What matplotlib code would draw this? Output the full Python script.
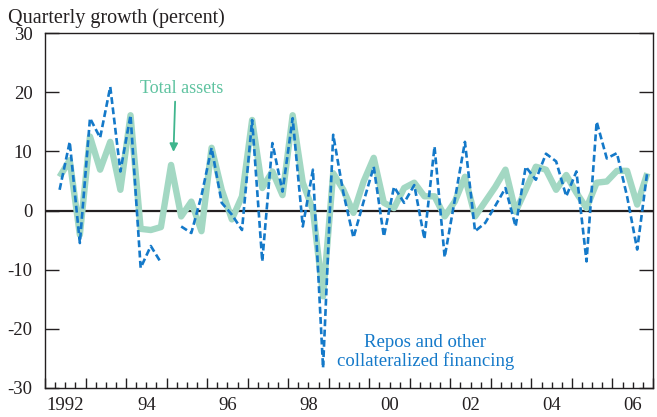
import numpy as np
import matplotlib
matplotlib.use("Agg")
import matplotlib.pyplot as plt
from matplotlib.transforms import blended_transform_factory

# ---- data (quarterly, 1992Q1 .. 2006Q3) ----
start_year = 1992
total_assets = [5.7, 8.5, -4.1, 12.5, 6.9, 11.6, 3.5, 16.1, -3.1, -3.3, -2.8,
                7.7, -1.0, 1.5, -3.5, 10.6, 3.5, -1.5, 2.4, 15.3, 3.8, 6.6, 2.6,
                16.1, 4.7, 0.1, -14.5, 6.3, 3.5, -0.4, 4.9, 8.9, 1.3, 0.4, 3.8,
                4.7, 2.4, 2.4, -1.0, 1.5, 5.7, -1.0, 1.5, 4.0, 6.9, -0.2, 3.5,
                7.4, 6.9, 3.5, 6.0, 3.0, 0.4, 4.7, 4.9, 6.7, 6.7, 1.0, 6.3]
repos = [3.5, 11.6, -5.5, 15.6, 12.3, 20.9, 6.6, 16.1, -9.7, -6.0, -8.8,
         np.nan, -2.7, -3.8, 2.5, 10.6, 1.3, -0.7, -3.3, 15.3, -8.6, 11.4, 3.2,
         15.6, -2.7, 6.9, -26.6, 12.8, 3.0, -4.6, 1.5, 7.4, -4.4, 4.0, 1.3,
         4.3, -4.8, 10.8, -7.9, 1.8, 11.6, -3.5, -2.1, 0.8, 3.8, -2.7, 7.4,
         5.2, 9.6, 8.3, 2.4, 6.6, -8.6, 15.0, 8.8, 9.7, 2.4, -6.6, 6.6]
year_labels = ["1992", "94", "96", "98", "00", "02", "04", "06"]
label_years = [1992, 1994, 1996, 1998, 2000, 2002, 2004, 2006]
y_ticks = [-30, -20, -10, 0, 10, 20, 30]

n = len(total_assets)
t = start_year + 0.36 + 0.25 * np.arange(n)

GREEN = "#a3d8c3"
GREEN_TXT = "#5fc3a0"
ARROW = "#3fb58d"
BLUE = "#1479c9"
INK = "#231f20"

plt.rcParams['font.family'] = ['Liberation Serif', 'DejaVu Serif']

fig = plt.figure(figsize=(6.57, 4.17), dpi=100)
ax = fig.add_axes([45/657, 1 - 388/417, (653 - 45)/657, (388 - 33)/417])

ax.axhline(0, color=INK, lw=1.6, zorder=1)
ax.plot(t, total_assets, color=GREEN, lw=4.6, solid_joinstyle='round',
        solid_capstyle='butt', zorder=2)
ax.plot(t, repos, color=BLUE, lw=1.9, linestyle=(0, (2.6, 1.3)),
        dash_joinstyle='round', zorder=3)

ax.set_xlim(1992, 2007)
ax.set_ylim(-30, 30)

ax.set_yticks(y_ticks)
ax.set_yticklabels([str(v) for v in y_ticks])
ax.tick_params(axis='y', which='both', direction='in', length=10, width=1,
               left=True, right=True, labelsize=13.5, pad=9, colors=INK)

ax.set_xticks(np.arange(1992, 2008))
ax.set_xticks(np.arange(1992, 2007.01, 0.25), minor=True)
ax.set_xticklabels([])
ax.tick_params(axis='x', which='major', direction='in', length=7.5, width=1, colors=INK)
ax.tick_params(axis='x', which='minor', direction='in', length=4.3, width=1, colors=INK)

trans = blended_transform_factory(ax.transData, ax.transAxes)
for yr, lab in zip(label_years, year_labels):
    ax.text(yr + 0.5, -0.025, lab, transform=trans, ha='center', va='top',
            fontsize=13.5, color=INK)

for s in ax.spines.values():
    s.set_color(INK)
    s.set_linewidth(1.0)

fig.text(8/657, 1 - 18/417, "Quarterly growth (percent)", ha='left', va='center',
         fontsize=14.5, color=INK)

ax.text(1995.36, 20.7, "Total assets", ha='center', va='center', fontsize=13,
        color=GREEN_TXT)
ax.annotate("", xy=(1995.17, 9.9), xytext=(1995.21, 18.4),
            arrowprops=dict(arrowstyle='-|>', color=ARROW, lw=1.3,
                            mutation_scale=12, shrinkA=0, shrinkB=0))

ax.text(2001.38, -22.3, "Repos and other", ha='center', va='center',
        fontsize=13.5, color=BLUE)
ax.text(2001.38, -25.5, "collateralized financing", ha='center', va='center',
        fontsize=13.5, color=BLUE)

fig.savefig("out.png", dpi=100)
